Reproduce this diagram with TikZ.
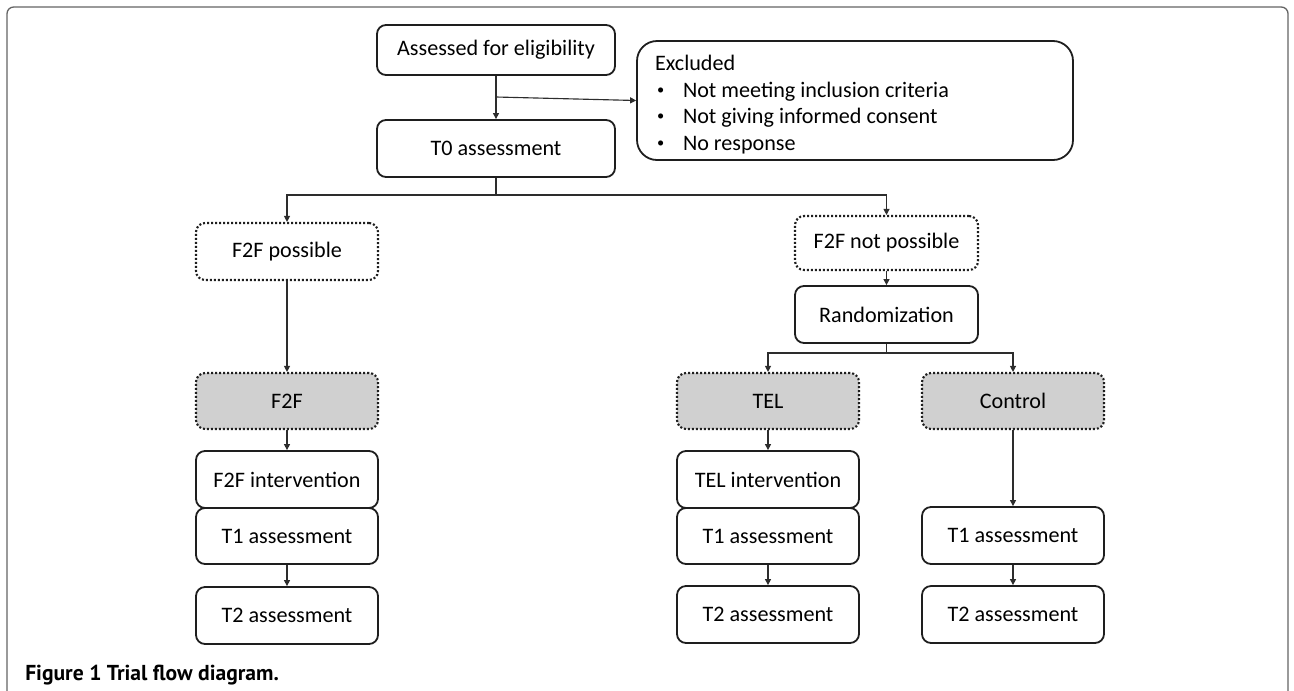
\documentclass[tikz,border=0pt]{standalone}
\usepackage{fontspec}
\setmainfont{Carlito}
\newfontfamily\capfont{PT Sans}
\usetikzlibrary{arrows.meta}
\definecolor{boxgray}{RGB}{208,208,208}
\definecolor{edge}{RGB}{30,30,30}
\definecolor{conn}{RGB}{45,45,45}
\definecolor{framec}{RGB}{100,100,100}
\newcommand\smbul{\makebox[21pt][l]{\hspace{1.5pt}\raisebox{2.2pt}{\scalebox{0.65}{•}}}}
\tikzset{
  sz/.style 2 args={minimum width=#1*0.75pt, minimum height=#2*0.75pt},
  solidbox/.style={draw=edge, line width=1.35pt, rounded corners=6.75pt, inner sep=0pt, align=center,
     font=\fontsize{16.6}{19.9}\selectfont},
  dotbox/.style={draw=edge, line width=1.6pt, dash pattern=on 1.5pt off 1.5pt, rounded corners=6.75pt,
     inner sep=0pt, align=center, font=\fontsize{16.6}{19.9}\selectfont},
  graybox/.style={dotbox, fill=boxgray},
  arr/.style={draw=conn, line width=0.85pt, -{Triangle[length=4.5pt,width=4.5pt]}},
  ln/.style={draw=conn, line width=0.85pt},
}
\begin{document}
\begin{tikzpicture}[x=0.75pt, y=-0.75pt]
\useasboundingbox (0,0) rectangle (1294,690);
% outer frame
\draw[framec, line width=1pt, rounded corners=5pt] (7,700) -- (7,7) -- (1288,7) -- (1288,700);

% top part
\node[solidbox, sz={238}{50}] (elig) at (496,50) {Assessed for eligibility};
\node[solidbox, sz={238}{57}] (t0) at (496,148.5) {T0 assessment};
\node[solidbox, sz={436}{119}, rounded corners=15pt, font=\fontsize{16.6}{20}\selectfont] (excl) at (855,100.5)
  {\makebox[300pt][l]{\begin{tabular}{@{}l@{}}
   \rule{0pt}{21pt}Excluded\\
   \smbul Not meeting inclusion criteria\\
   \smbul Not giving informed consent\\
   \smbul No response
   \end{tabular}}};

% left branch
\node[dotbox, sz={182}{57}] (f2fp) at (287,251.5) {F2F possible};
\node[graybox, sz={182}{56}] (f2f) at (287,401) {F2F};
\node[solidbox, sz={182}{57}] (f2fint) at (287,479.5) {F2F intervention};
\node[solidbox, sz={182}{56}] (t1a) at (287,536) {T1 assessment};
\node[solidbox, sz={182}{57}] (t2a) at (287,615.5) {T2 assessment};

% right branch
\node[dotbox, sz={183}{54}] (f2fnp) at (886.5,243) {F2F not possible};
\node[solidbox, sz={183}{57}] (rand) at (886.5,314.5) {Randomization};
\node[graybox, sz={182}{56}] (tel) at (768,401) {TEL};
\node[graybox, sz={182}{56}] (ctrl) at (1013,401) {Control};
\node[solidbox, sz={182}{57}] (telint) at (768,479.5) {TEL intervention};
\node[solidbox, sz={182}{56}] (t1b) at (768,536) {T1 assessment};
\node[solidbox, sz={182}{57}] (t2b) at (768,614.5) {T2 assessment};
\node[solidbox, sz={182}{57}] (t1c) at (1013,535.5) {T1 assessment};
\node[solidbox, sz={182}{57}] (t2c) at (1013,614.5) {T2 assessment};

% connectors
\draw[arr] (elig) -- (t0);
\coordinate (ex) at (496,97);
\draw[arr] (ex) -- (excl.west);
\coordinate (sp) at (496,195);
\draw[arr] (t0.south) -- (sp) -| (f2fp.north);
\draw[arr] (sp) -| (f2fnp.north);
\draw[arr] (f2fp) -- (f2f);
\draw[arr] (f2f) -- (f2fint);
\draw[arr] (t1a) -- (t2a);
\draw[arr] (f2fnp) -- (rand);
\coordinate (rp) at (886.5,353);
\draw[ln] (rand.south) -- (rp);
\draw[arr] (rp) -| (tel.north);
\draw[arr] (rp) -| (ctrl.north);
\draw[arr] (tel) -- (telint);
\draw[arr] (t1b) -- (t2b);
\draw[arr] (ctrl) -- (t1c);
\draw[arr] (t1c) -- (t2c);

% caption
\node[anchor=base west, inner sep=0pt, font=\capfont\bfseries\fontsize{16.2}{19}\selectfont] (cap) at (25,680)
  {Figure 1 Trial flow diagram.};
\end{tikzpicture}
\end{document}
